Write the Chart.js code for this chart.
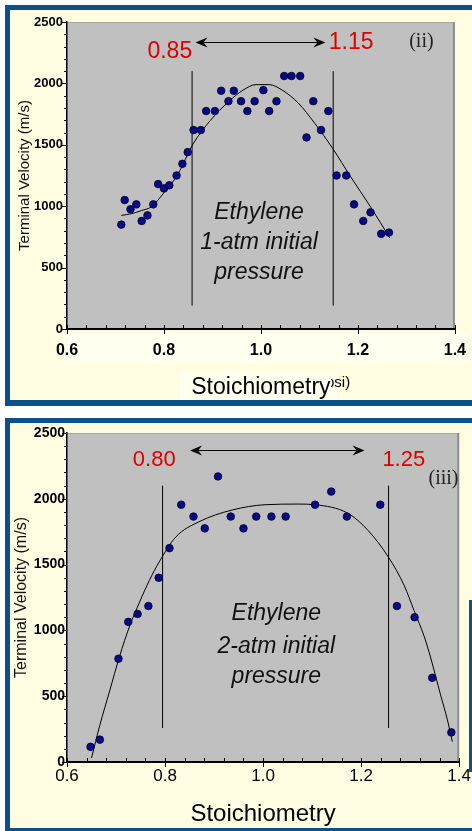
<!DOCTYPE html>
<html><head><meta charset="utf-8">
<script src="https://cdn.jsdelivr.net/npm/chart.js@4.4.0/dist/chart.umd.min.js"></script>
<style>
html,body{margin:0;padding:0;background:#fff;width:472px;height:831px;overflow:hidden;}
.panel{position:absolute;box-sizing:border-box;background:#fffde1;border:5px solid #0d4f8b;border-right:none;}
#p1{left:5px;top:5px;width:467px;height:401px;border-bottom-width:6px;}
#p2{left:5px;top:418px;width:467px;height:413px;border-bottom-width:3px;}
#strip{position:absolute;left:469px;top:600px;width:3px;height:172px;background:#0d4f8b;}
canvas{position:absolute;left:0;}
#c1{top:0;}
#c2{top:418px;}
</style></head><body>
<div class="panel" id="p1"></div><div class="panel" id="p2"></div><div id="strip"></div>
<canvas id="c1" width="472" height="406" style="width:472px;height:406px"></canvas>
<canvas id="c2" width="472" height="413" style="width:472px;height:413px"></canvas>
<script>
// ---------- Data: panel (ii), ethylene 1 atm ----------
const stoich1 = [0.712,0.719,0.731,0.743,0.754,0.766,0.778,0.788,0.800,0.811,0.826,0.838,0.849,0.861,0.876,0.887,0.905,0.918,0.933,0.944,0.959,0.972,0.987,1.005,1.017,1.032,1.048,1.063,1.081,1.094,1.108,1.124,1.139,1.156,1.176,1.192,1.211,1.226,1.248,1.264];
const vel1 = [850,1050,975,1015,880,925,1015,1180,1145,1170,1250,1345,1440,1620,1620,1775,1775,1940,1855,1940,1855,1775,1855,1945,1775,1855,2060,2060,2060,1560,1855,1620,1775,1250,1250,1015,880,950,775,785];
const fitX1 = [0.712,0.734,0.754,0.774,0.801,0.828,0.859,0.896,0.933,0.963,0.990,1.017,1.044,1.077,1.111,1.148,1.185,1.226,1.266];
const fitY1 = [925,940,965,995,1115,1255,1500,1700,1850,1945,1990,1990,1945,1840,1675,1470,1240,995,740];
const bounds1 = [0.858, 1.149];
const boundRange1 = [190, 2100];
const arrow1 = [0.865, 1.133, 2340];
const limitLabels1 = ['0.85', '1.15'];

// ---------- Data: panel (iii), ethylene 2 atm ----------
const stoich2 = [0.648,0.667,0.705,0.725,0.744,0.766,0.787,0.809,0.833,0.858,0.881,0.908,0.934,0.960,0.986,1.017,1.046,1.106,1.139,1.171,1.239,1.273,1.309,1.345,1.384];
const vel2 = [115,170,785,1065,1125,1185,1400,1625,1955,1865,1775,2170,1865,1775,1865,1865,1865,1955,2055,1865,1955,1185,1100,640,225];
const fitX2 = [0.650,0.667,0.687,0.707,0.728,0.748,0.768,0.788,0.822,0.869,0.937,1.004,1.072,1.106,1.173,1.214,1.256,1.288,1.308,1.329,1.342,1.362,1.376,1.386];
const fitY2 = [30,280,540,800,1035,1215,1380,1520,1710,1825,1915,1955,1960,1955,1890,1760,1555,1340,1150,950,790,510,320,155];
const bounds2 = [0.795, 1.256];
const boundRange2 = [258, 2100];
const arrow2 = [0.851, 1.207, 2368];
const limitLabels2 = ['0.80', '1.25'];

// ---------- Axis settings ----------
const xMin = 0.6, xMax = 1.4, xMinorStep = 0.04;
const yMin = 0, yMax = 2500, yMinorStep = 100, yMajorStep = 500;
const xTitle = 'Stoichiometry';
const yTitle = 'Terminal Velocity (m/s)';

const SANS = '"Liberation Sans", Arial, sans-serif';
const SERIF = '"Liberation Serif", "Times New Roman", serif';
const isMajorX = v => Math.abs(v*5 - Math.round(v*5)) < 1e-6;

const plotBg = {
  id: 'plotBg',
  beforeDraw(chart, args, opts) {
    const {ctx, chartArea: a} = chart;
    ctx.save();
    (opts.boxes || []).forEach(b => { ctx.fillStyle = '#fffff0'; ctx.fillRect(b[0], b[1], b[2], b[3]); });
    ctx.fillStyle = '#c0c0c0';
    ctx.fillRect(a.left, a.top, a.right - a.left, a.bottom - a.top);
    ctx.strokeStyle = '#a6a6a6'; ctx.lineWidth = 1;
    ctx.beginPath(); ctx.moveTo(a.left, a.top + 0.5); ctx.lineTo(a.right, a.top + 0.5); ctx.stroke();
    ctx.strokeStyle = '#8e8e8e'; ctx.lineWidth = 2;
    ctx.beginPath(); ctx.moveTo(a.right - 1, a.top); ctx.lineTo(a.right - 1, a.bottom); ctx.stroke();
    ctx.restore();
  }
};

const tickMarks = {
  id: 'tickMarks',
  afterDraw(chart) {
    const {ctx} = chart; const xs = chart.scales.x, ys = chart.scales.y;
    ctx.save(); ctx.strokeStyle = '#000'; ctx.lineWidth = 1;
    xs.ticks.forEach(t => {
      const p = Math.round(xs.getPixelForValue(t.value)) + 0.5;
      const major = isMajorX(t.value);
      ctx.beginPath(); ctx.moveTo(p, xs.top - 4); ctx.lineTo(p, xs.top + (major ? 5 : 0)); ctx.stroke();
    });
    ys.ticks.forEach(t => {
      const p = Math.round(ys.getPixelForValue(t.value)) + 0.5;
      const major = t.value % yMajorStep === 0;
      ctx.beginPath(); ctx.moveTo(ys.right - (major ? 5 : 3), p); ctx.lineTo(ys.right, p); ctx.stroke();
    });
    ctx.restore();
  }
};

const annot = {
  id: 'annot',
  afterDatasetsDraw(chart, args, opts) {
    const {ctx} = chart; const xs = chart.scales.x, ys = chart.scales.y;
    ctx.save();
    const [ax1, ax2, ay] = opts.arrow;
    const p1 = xs.getPixelForValue(ax1), p2 = xs.getPixelForValue(ax2), py = Math.round(ys.getPixelForValue(ay)) + 0.5;
    ctx.strokeStyle = '#000'; ctx.fillStyle = '#000'; ctx.lineWidth = 1.2;
    ctx.beginPath(); ctx.moveTo(p1 + 3, py); ctx.lineTo(p2 - 3, py); ctx.stroke();
    const head = (tip, dir) => {
      ctx.beginPath();
      ctx.moveTo(tip, py);
      ctx.lineTo(tip + dir*12, py - 5);
      ctx.lineTo(tip + dir*8, py);
      ctx.lineTo(tip + dir*12, py + 5);
      ctx.closePath(); ctx.fill();
    };
    head(p1, 1); head(p2, -1);
    (opts.texts || []).forEach(t => {
      ctx.font = t.font; ctx.fillStyle = t.color; ctx.textAlign = 'center'; ctx.textBaseline = 'middle';
      ctx.fillText(t.text, xs.getPixelForValue(t.x), ys.getPixelForValue(t.y));
    });
    if (opts.remnant) {
      const r = opts.remnant;
      ctx.beginPath(); ctx.rect(r.clipX, 0, 200, chart.height); ctx.clip();
      ctx.font = r.font; ctx.fillStyle = '#000'; ctx.textAlign = 'left'; ctx.textBaseline = 'alphabetic';
      ctx.fillText(r.text, r.x, r.y);
    }
    ctx.restore();
  }
};

function pts(xs, ys) { return xs.map((x, i) => ({x, y: ys[i]})); }

function makeChart(id, d) {
  return new Chart(document.getElementById(id), {
    type: 'scatter',
    data: {
      datasets: [
        { data: pts(d.sx, d.sy), pointRadius: 3.8, pointBackgroundColor: '#0a0a86', pointBorderColor: '#00002a', pointBorderWidth: 0.8, showLine: false },
        { data: pts(d.fx, d.fy), showLine: true, pointRadius: 0, borderColor: '#000', borderWidth: 1, tension: 0.4, cubicInterpolationMode: 'monotone' },
        { data: [{x: d.b[0], y: d.br[0]}, {x: d.b[0], y: d.br[1]}], showLine: true, pointRadius: 0, borderColor: '#000', borderWidth: 1 },
        { data: [{x: d.b[1], y: d.br[0]}, {x: d.b[1], y: d.br[1]}], showLine: true, pointRadius: 0, borderColor: '#000', borderWidth: 1 }
      ]
    },
    options: {
      responsive: false, animation: false, devicePixelRatio: 1,
      layout: { padding: { left: 0, top: d.padTop, right: d.padRight, bottom: 0 } },
      plugins: {
        legend: { display: false }, tooltip: { enabled: false },
        plotBg: { boxes: d.boxes || [] },
        annot: { arrow: d.arrow, texts: d.texts, remnant: d.remnant }
      },
      scales: {
        x: {
          type: 'linear', min: xMin, max: xMax,
          afterFit: s => { s.height = d.xH; },
          border: { display: true, color: '#000', width: 2 },
          grid: { display: true, drawOnChartArea: false, drawTicks: true, tickLength: d.xTickLen, tickColor: 'rgba(0,0,0,0)' },
          ticks: { stepSize: xMinorStep, autoSkip: false, maxRotation: 0, padding: d.xTickPad, color: '#000',
                   font: { family: SANS, size: d.xTickSize, weight: d.xTickWeight },
                   callback: v => isMajorX(v) ? v.toFixed(1) : '' },
          title: { display: true, text: xTitle, color: '#000', font: { family: SANS, size: d.xTitleSize }, padding: { top: 0, bottom: d.xTitlePadB } }
        },
        y: {
          type: 'linear', min: yMin, max: yMax,
          afterFit: s => { s.width = 67; },
          border: { display: true, color: '#000', width: 1.5 },
          grid: { display: true, drawOnChartArea: false, drawTicks: true, tickLength: d.yTickLen, tickColor: 'rgba(0,0,0,0)' },
          ticks: { stepSize: yMinorStep, autoSkip: false, padding: 0, color: '#000',
                   font: { family: SANS, size: d.yTickSize, weight: 'bold' },
                   callback: v => v % yMajorStep === 0 ? String(v) : '' },
          title: { display: true, text: yTitle, color: '#111', font: { family: SANS, size: d.yTitleSize }, padding: { top: d.yTitlePadT, bottom: 0 } }
        }
      }
    },
    plugins: [plotBg, tickMarks, annot]
  });
}

makeChart('c1', {
  sx: stoich1, sy: vel1, fx: fitX1, fy: fitY1, b: bounds1, br: boundRange1, arrow: arrow1,
  padTop: 22, padRight: 7, xH: 77, xTickLen: 6, xTickPad: 6, xTickSize: 16, xTickWeight: 'bold',
  xTitleSize: 23, xTitlePadB: 5, yTickLen: 4, yTickSize: 13, yTitleSize: 15, yTitlePadT: 16,
  boxes: [[63, 333, 404, 29], [180, 372, 157, 28]],
  texts: [
    { text: limitLabels1[0], x: 0.812, y: 2256, font: '23px ' + SANS, color: '#dd0000' },
    { text: limitLabels1[1], x: 1.186, y: 2329, font: '23px ' + SANS, color: '#dd0000' },
    { text: '(ii)', x: 1.331, y: 2337, font: '20px ' + SERIF, color: '#222' },
    { text: 'Ethylene', x: 0.996, y: 945, font: 'italic 23px ' + SANS, color: '#111' },
    { text: '1-atm initial', x: 0.996, y: 700, font: 'italic 23px ' + SANS, color: '#111' },
    { text: 'pressure', x: 0.996, y: 456, font: 'italic 23px ' + SANS, color: '#111' }
  ],
  remnant: { text: '(psi)', x: 321, y: 387, clipX: 331, font: '15px ' + SANS }
});

makeChart('c2', {
  sx: stoich2, sy: vel2, fx: fitX2, fy: fitY2, b: bounds2, br: boundRange2, arrow: arrow2,
  padTop: 15, padRight: 10, xH: 69, xTickLen: 3, xTickPad: 1, xTickSize: 17, xTickWeight: 'normal',
  xTitleSize: 24, xTitlePadB: 2, yTickLen: 2, yTickSize: 14, yTitleSize: 16, yTitlePadT: 12,
  texts: [
    { text: limitLabels2[0], x: 0.778, y: 2294, font: '22px ' + SANS, color: '#dd0000' },
    { text: limitLabels2[1], x: 1.287, y: 2294, font: '22px ' + SANS, color: '#dd0000' },
    { text: '(iii)', x: 1.368, y: 2156, font: '20px ' + SERIF, color: '#222' },
    { text: 'Ethylene', x: 1.027, y: 1124, font: 'italic 23px ' + SANS, color: '#111' },
    { text: '2-atm initial', x: 1.027, y: 879, font: 'italic 23px ' + SANS, color: '#111' },
    { text: 'pressure', x: 1.027, y: 650, font: 'italic 23px ' + SANS, color: '#111' }
  ]
});
</script>
</body></html>
